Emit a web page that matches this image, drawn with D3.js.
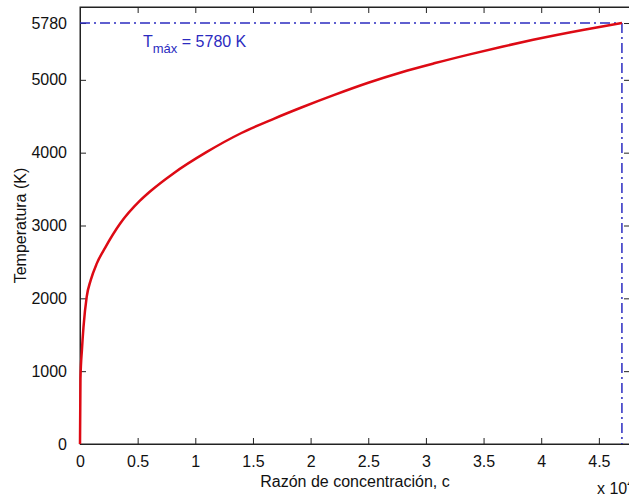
<!DOCTYPE html>
<html><head><meta charset="utf-8">
<script src="https://cdn.jsdelivr.net/npm/d3@7"></script>
<style>body{margin:0;background:#fff}svg{display:block}text{font-family:"Liberation Sans",Arial,sans-serif}</style>
</head><body>
<script>
const cValues = [0, 0.004, 0.017, 0.03, 0.058, 0.093, 0.146, 0.22, 0.35, 0.52, 0.61, 0.81, 1.1, 1.4, 1.68, 1.92, 2.2, 2.5, 2.79, 3.08, 3.38, 3.66, 3.93, 4.36, 4.70];
const tValues = [0, 900, 1300, 1600, 2020, 2250, 2480, 2700, 3030, 3340, 3470, 3715, 4010, 4270, 4465, 4620, 4790, 4960, 5105, 5230, 5350, 5455, 5550, 5685, 5780];
const xTicks = [0, 0.5, 1, 1.5, 2, 2.5, 3, 3.5, 4, 4.5];
const yTicks = [0, 1000, 2000, 3000, 4000, 5000, 5780];
const tMax = 5780, cAtMax = 4.70;
const xTitle = "Razón de concentración, c";
const yTitle = "Temperatura (K)";

const W = 629, H = 496;
const m = {left: 80, right: 630, top: 7, bottom: 444};
const svg = d3.select("body").append("svg").attr("width", W).attr("height", H);
const x = d3.scaleLinear().domain([0, 4.77]).range([m.left, m.right]);
const y = d3.scaleLinear().domain([0, 6000]).range([m.bottom, m.top]);
const fs = 16;

// frame
svg.append("rect").attr("x", m.left).attr("y", m.top).attr("width", m.right - m.left).attr("height", m.bottom - m.top)
  .attr("fill", "#fff").attr("stroke", "#222").attr("stroke-width", 1);

// axes
const xa = svg.append("g").attr("transform", `translate(0,${m.bottom})`)
  .call(d3.axisBottom(x).tickValues(xTicks).tickSize(-6).tickPadding(12).tickFormat(d3.format("")));
const xt = svg.append("g").attr("transform", `translate(0,${m.top})`)
  .call(d3.axisTop(x).tickValues(xTicks).tickSize(-6).tickFormat(""));
const ya = svg.append("g").attr("transform", `translate(${m.left},0)`)
  .call(d3.axisLeft(y).tickValues(yTicks).tickSize(-6).tickPadding(13).tickFormat(d3.format("d")));
const yr = svg.append("g").attr("transform", `translate(${m.right},0)`)
  .call(d3.axisRight(y).tickValues(yTicks).tickSize(-6).tickFormat(""));
[xa, xt, ya, yr].forEach(g => {
  g.select(".domain").attr("stroke", "#222");
  g.selectAll(".tick line").attr("stroke", "#222");
  g.selectAll("text").attr("font-size", fs).attr("fill", "#111").attr("font-family", "Liberation Sans, Arial, sans-serif");
});
xa.selectAll(".tick text").attr("dy", "0.71em");

// titles
svg.append("text").attr("x", (m.left + m.right) / 2).attr("y", 487).attr("text-anchor", "middle")
  .attr("font-size", fs).attr("fill", "#111").text(xTitle);
svg.append("text").attr("transform", `translate(26,${(m.top + m.bottom) / 2}) rotate(-90)`).attr("text-anchor", "middle")
  .attr("font-size", fs).attr("fill", "#111").text(yTitle);
const ex = svg.append("text").attr("x", 597).attr("y", 494).attr("font-size", fs).attr("fill", "#111");
ex.append("tspan").text("x 10");
ex.append("tspan").attr("dy", -7).attr("font-size", 11).text("4");

// dash-dot max lines
const blue = "#2b2bc0";
const dd = "10,4,2,4";
svg.append("line").attr("x1", x(0)).attr("x2", x(cAtMax)).attr("y1", y(tMax)).attr("y2", y(tMax))
  .attr("stroke", blue).attr("stroke-width", 1.5).attr("stroke-dasharray", dd);
svg.append("line").attr("x1", x(cAtMax)).attr("x2", x(cAtMax)).attr("y1", y(tMax)).attr("y2", y(0))
  .attr("stroke", blue).attr("stroke-width", 1.5).attr("stroke-dasharray", dd);

// label
const lbl = svg.append("text").attr("x", 143).attr("y", 47).attr("font-size", fs).attr("fill", blue);
lbl.append("tspan").text("T");
lbl.append("tspan").attr("dy", 6).attr("font-size", 13).text("máx");
lbl.append("tspan").attr("dy", -6).text(" = 5780 K");

// curve
const data = cValues.map((c, i) => ({c, t: tValues[i]}));
svg.append("path").datum(data)
  .attr("d", d3.line().x(d => x(d.c)).y(d => y(d.t)).curve(d3.curveMonotoneX))
  .attr("fill", "none").attr("stroke", "#dd0a14").attr("stroke-width", 2.5);
</script>
</body></html>
